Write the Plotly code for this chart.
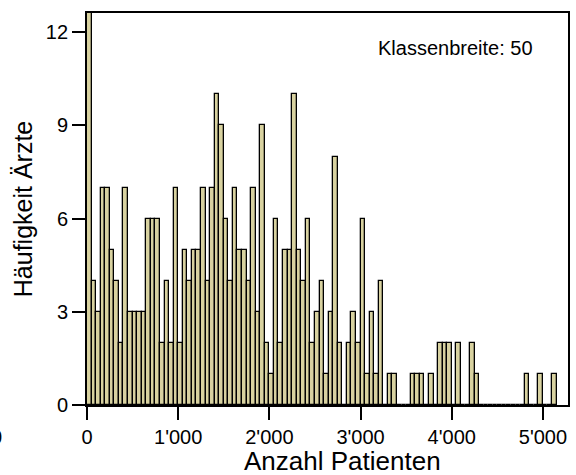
import plotly.graph_objects as go

# Histogram (class width 50 patients), counts per class
bin_width = 50
counts = [13, 4, 3, 7, 7, 5, 4, 2, 7, 3,
          3, 3, 3, 6, 6, 6, 2, 4, 2, 7,
          2, 5, 4, 5, 5, 7, 4, 7, 10, 9,
          6, 4, 7, 5, 5, 4, 7, 3, 9, 2,
          1, 6, 2, 5, 5, 10, 5, 4, 6, 2,
          3, 4, 1, 3, 8, 2, 0, 2, 3, 2,
          6, 1, 3, 1, 4, 0, 1, 1, 0, 0,
          0, 1, 1, 1, 0, 1, 0, 2, 2, 2,
          0, 2, 0, 0, 2, 1, 0, 0, 0, 0,
          0, 0, 0, 0, 0, 0, 1, 0, 0, 1,
          0, 0, 1]
bin_centers = [bin_width * i + bin_width / 2 for i in range(len(counts))]

x_tickvals = [0, 1000, 2000, 3000, 4000, 5000]
x_ticktext = ["0", "1'000", "2'000", "3'000", "4'000", "5'000"]
y_tickvals = [0, 3, 6, 9, 12]

FONT = "Liberation Sans, Arial, sans-serif"

fig = go.Figure()
fig.add_trace(go.Bar(
    x=bin_centers, y=counts, width=bin_width,
    marker=dict(color="#d8d2a0", line=dict(color="black", width=1.3)),
))

fig.update_layout(
    width=576, height=475,
    margin=dict(l=87, r=6, t=13, b=70),
    paper_bgcolor="white", plot_bgcolor="white",
    showlegend=False, bargap=0,
    font=dict(family=FONT, color="black"),
    annotations=[
        dict(text="Klassenbreite: 50", xref="paper", yref="paper",
             x=0.767, y=0.911, xanchor="center", yanchor="middle",
             showarrow=False, font=dict(size=20, family=FONT, color="black")),
        dict(text="Anzahl Patienten", xref="paper", yref="paper",
             x=0.532, y=-0.143, xanchor="center", yanchor="middle",
             showarrow=False, borderpad=0,
             font=dict(size=26, family=FONT, color="black")),
        dict(text="0", xref="paper", yref="paper",
             x=(4 - 87) / 483, y=-0.082, xanchor="right", yanchor="middle",
             showarrow=False, font=dict(size=20, family=FONT, color="black")),
    ],
)
fig.update_xaxes(
    range=[0, 5275], tickvals=x_tickvals, ticktext=x_ticktext,
    showline=True, linecolor="black", linewidth=1.8, mirror=True,
    ticks="outside", ticklen=13, tickwidth=2, tickcolor="black",
    showgrid=False, zeroline=False,
    tickfont=dict(size=20, family=FONT, color="black"),
)
fig.update_yaxes(
    range=[0, 12.62], tickvals=y_tickvals,
    showline=True, linecolor="black", linewidth=1.8, mirror=True,
    ticks="outside", ticklen=13, tickwidth=2, tickcolor="black",
    showgrid=False, zeroline=False,
    tickfont=dict(size=20, family=FONT, color="black"),
    title=dict(text="Häufigkeit Ärzte", font=dict(size=25, family=FONT, color="black"), standoff=6),
)

fig.write_html("out.html", config={"displayModeBar": False},
               post_script="document.body.style.margin='0';")
